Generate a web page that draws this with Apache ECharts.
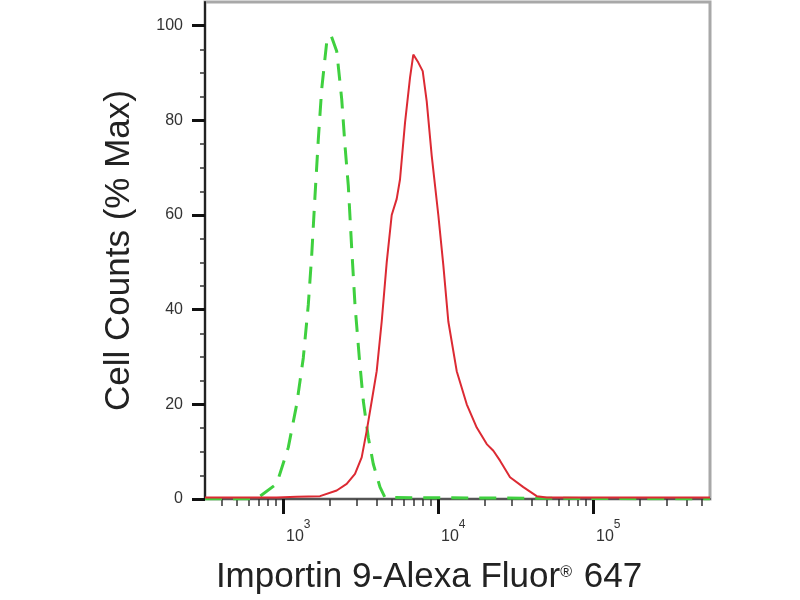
<!DOCTYPE html>
<html>
<head>
<meta charset="utf-8">
<script src="https://cdn.jsdelivr.net/npm/echarts@6/dist/echarts.min.js"></script>
<style>html,body{margin:0;padding:0;background:#fff}#c{width:800px;height:600px}</style>
</head>
<body>
<div id="c"></div>
<script>
// Red (stained) histogram: fluorescence intensity vs % of max
var redX = [314, 528, 911, 1226, 1733, 2221, 2576, 2914, 3218, 3467, 3736, 4022, 4333, 4667, 5027, 5414, 5685, 6126, 6598, 6928, 7463, 7965, 8455, 9108, 10044, 10819, 11654, 13203, 15318, 17771, 20620, 22745, 25119, 29144, 35508, 43333, 50265, 568000];
var redY = [0.3, 0.3, 0.3, 0.5, 0.6, 1.8, 3.2, 5.3, 8.8, 14.4, 20.7, 27, 37.5, 50, 60, 63.4, 67.5, 79.5, 89, 93.9, 92.2, 90.4, 84, 72.5, 60, 49.4, 37.5, 27, 20, 15.1, 11.6, 10.2, 8.1, 4.6, 2.5, 0.6, 0.3, 0.3];
// Green (control, dashed) histogram
var greenX = [314, 640, 693, 911, 1082, 1226, 1352, 1456, 1532, 1609, 1690, 1777, 1914, 2040, 2221, 2392, 2512, 2638, 2774, 2914, 3107, 3297, 3551, 3823, 4225, 4550, 568000];
var greenY = [0, 0, 0.3, 3.2, 10.9, 20, 29.8, 41, 51.5, 64.1, 76, 86.6, 96.5, 98, 94.6, 84.5, 74.6, 66.2, 53, 41, 29.8, 20.7, 13, 7.4, 2.5, 0.3, 0];
// Axis ticks
var xMajorTicks = [1000, 10000, 100000];
var xExponents = {1000: '3', 10000: '4', 100000: '5'};
var xMinorTicks = [400, 500, 600, 700, 800, 900, 2000, 3000, 4000, 5000, 6000, 7000, 8000, 9000, 20000, 30000, 40000, 50000, 60000, 70000, 80000, 90000, 200000, 300000, 400000, 500000];
var yTicks = [0, 20, 40, 60, 80, 100];
var xTitle = 'Importin 9-Alexa Fluor{r|®} 647';
var yTitle = 'Cell Counts (% Max)';

function zip(xs, ys) { return xs.map(function (x, i) { return [x, ys[i]]; }); }

var FONT = '"Liberation Sans", Arial, sans-serif';
var chart = echarts.init(document.getElementById('c'));
chart.setOption({
  animation: false,
  backgroundColor: '#fff',
  grid: { left: 205, right: 90, top: 2, bottom: 99, show: true, borderColor: '#a8a8a8', borderWidth: 3, backgroundColor: 'transparent' },
  xAxis: [{
    type: 'log', logBase: 10, min: 314, max: 568000,
    position: 'bottom',
    axisLine: { show: true, lineStyle: { color: '#555', width: 2 } },
    axisTick: { show: true, customValues: xMajorTicks, length: 15, lineStyle: { color: '#111', width: 3 } },
    splitLine: { show: false },
    axisLabel: {
      customValues: xMajorTicks, margin: 20, align: 'left', color: '#333', fontFamily: FONT,
      formatter: function (v) { return '{b|10}{s|' + (xExponents[Math.round(v)] || '') + '}'; },
      rich: {
        b: { fontSize: 16, fontFamily: FONT, color: '#333', padding: [10, 0, 0, 3] },
        s: { fontSize: 12, fontFamily: FONT, color: '#333', verticalAlign: 'top' }
      }
    },
    name: xTitle, nameLocation: 'middle', nameGap: 61,
    nameTextStyle: {
      fontSize: 35, fontFamily: FONT, color: '#222', padding: [0, 57, 0, 0],
      rich: { r: { fontSize: 16, fontFamily: FONT, color: '#222', verticalAlign: 'top', padding: [5, 2, 0, 0] } }
    }
  }, {
    type: 'log', logBase: 10, min: 314, max: 568000,
    position: 'bottom',
    axisLine: { show: false },
    axisTick: { show: true, customValues: xMinorTicks, length: 7, lineStyle: { color: '#333', width: 1.5 } },
    axisLabel: { show: false },
    splitLine: { show: false }
  }],
  yAxis: {
    type: 'value', min: 0, max: 105,
    axisLine: { show: true, lineStyle: { color: '#222', width: 2 } },
    axisTick: { show: true, customValues: yTicks, length: 13, lineStyle: { color: '#111', width: 3 } },
    minorTick: { show: true, splitNumber: 4, length: 5, lineStyle: { color: '#333', width: 1.5 } },
    splitLine: { show: false },
    interval: 20,
    axisLabel: { customValues: yTicks, margin: 22, fontSize: 16, fontFamily: FONT, color: '#333' },
    name: yTitle, nameLocation: 'middle', nameGap: 68, nameRotate: 90,
    nameTextStyle: { fontSize: 35, fontFamily: FONT, color: '#222' }
  },
  series: [{
    type: 'line', name: 'control', xAxisIndex: 0, data: zip(greenX, greenY),
    showSymbol: false, smooth: false,
    lineStyle: { color: '#3fd03f', width: 3, type: [17, 11] }, z: 3
  }, {
    type: 'line', name: 'stained', xAxisIndex: 0, data: zip(redX, redY),
    showSymbol: false, smooth: false,
    lineStyle: { color: '#dc2a33', width: 2 }, z: 4
  }]
});
</script>
</body>
</html>
